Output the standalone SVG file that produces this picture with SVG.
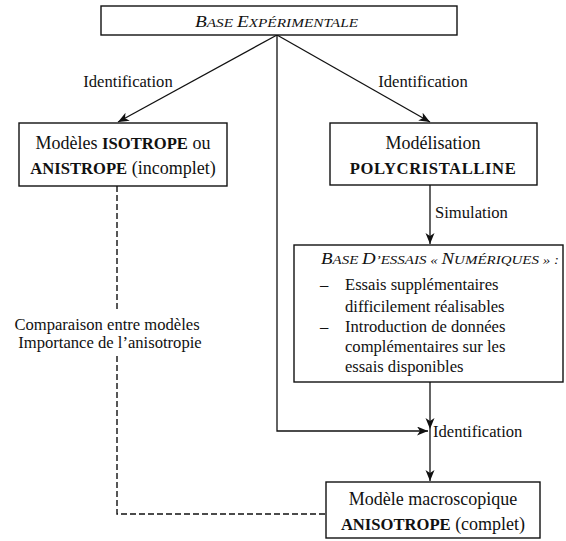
<svg xmlns="http://www.w3.org/2000/svg" width="566" height="541" viewBox="0 0 566 541" font-family="'Liberation Serif', 'DejaVu Serif', serif">
<style>
.box{fill:#fff;stroke:#111;stroke-width:1.4}
.ln{fill:none;stroke:#111;stroke-width:1.3}
.dash{fill:none;stroke:#111;stroke-width:1.4;stroke-dasharray:6 3}
text{font-family:"Liberation Serif","DejaVu Serif",serif;fill:#111}
.t{font-size:18px}
.l{font-size:16.6px}
.b{font-weight:bold;font-size:16.6px}
.it{font-style:italic;font-size:13.5px}
.cap{font-size:17px}
</style>
<defs>
<marker id="ah" markerWidth="12" markerHeight="10" refX="11" refY="4.5" orient="auto" markerUnits="userSpaceOnUse">
<path d="M0,0 L11,4.5 L0,9 L3,4.5 z" fill="#111"/>
</marker>
</defs>
<g id="connectors">
<line class="ln" x1="277" y1="35" x2="118" y2="122" marker-end="url(#ah)"/>
<line class="ln" x1="277" y1="35" x2="430" y2="122" marker-end="url(#ah)"/>
<polyline class="ln" points="277,35 277,431 428,431" marker-end="url(#ah)"/>
<line class="ln" x1="430" y1="185" x2="430" y2="244" marker-end="url(#ah)"/>
<line class="ln" x1="430" y1="382" x2="430" y2="429" marker-end="url(#ah)"/>
<line class="ln" x1="430" y1="429" x2="430" y2="481" marker-end="url(#ah)"/>
<line class="dash" x1="117" y1="186" x2="117" y2="312"/>
<polyline class="dash" points="117,356 117,514 326,514"/>
<text class="l" x="128" y="87" text-anchor="middle">Identification</text>
<text class="l" x="423" y="87" text-anchor="middle">Identification</text>
<text class="l" x="435" y="218">Simulation</text>
<text class="l" x="433" y="437">Identification</text>
<text class="l" x="107" y="330" text-anchor="middle">Comparaison entre modèles</text>
<text class="l" x="110" y="348" text-anchor="middle">Importance de l’anisotropie</text>
</g>
<g id="base-experimentale">
<rect class="box" x="101" y="6" width="356" height="29"/>
<text class="it" x="195" y="27" textLength="163" lengthAdjust="spacingAndGlyphs"><tspan class="cap">B</tspan>ASE <tspan class="cap">E</tspan>XPÉRIMENTALE</text>
</g>
<g id="modeles-isotrope">
<rect class="box" x="19" y="123" width="208" height="63"/>
<text class="t" x="123" y="149" text-anchor="middle">Modèles <tspan class="b">ISOTROPE</tspan> ou</text>
<text class="t" x="123" y="174" text-anchor="middle"><tspan class="b">ANISTROPE</tspan> (incomplet)</text>
</g>
<g id="modelisation-polycristalline">
<rect class="box" x="330" y="123" width="207" height="62"/>
<text class="t" x="433" y="149" text-anchor="middle">Modélisation</text>
<text class="b" x="433" y="174" text-anchor="middle" letter-spacing="0.6">POLYCRISTALLINE</text>
</g>
<g id="base-essais-numeriques">
<rect class="box" x="294" y="245" width="269" height="137"/>
<text class="it" x="321" y="264" textLength="238" lengthAdjust="spacingAndGlyphs"><tspan class="cap">B</tspan>ASE <tspan class="cap">D</tspan>’ESSAIS « <tspan class="cap">N</tspan>UMÉRIQUES » :</text>
<text class="l" x="320" y="290">–</text>
<text class="l" x="345" y="290">Essais supplémentaires</text>
<text class="l" x="345" y="312">difficilement réalisables</text>
<text class="l" x="320" y="332">–</text>
<text class="l" x="345" y="332">Introduction de données</text>
<text class="l" x="345" y="352">complémentaires sur les</text>
<text class="l" x="345" y="372">essais disponibles</text>
</g>
<g id="modele-macroscopique">
<rect class="box" x="326" y="482" width="214" height="56"/>
<text class="t" x="433" y="505" text-anchor="middle">Modèle macroscopique</text>
<text class="t" x="433" y="530" text-anchor="middle"><tspan class="b">ANISOTROPE</tspan> (complet)</text>
</g>
</svg>
